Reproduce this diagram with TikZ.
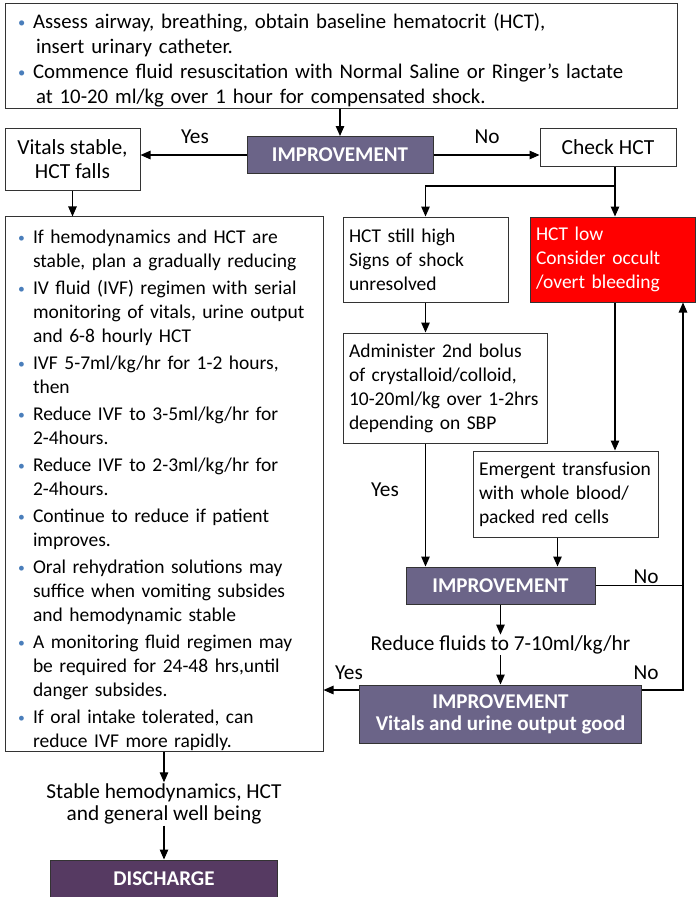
\documentclass[tikz,border=0pt]{standalone}
\usepackage{fontspec}
\setmainfont{Carlito}
\usepackage{xcolor}
\usetikzlibrary{arrows.meta}
\definecolor{impcol}{HTML}{6B6488}
\definecolor{discol}{HTML}{563A62}
\definecolor{bulcol}{HTML}{4A7EBB}
\definecolor{edgecol}{HTML}{333333}
\newcommand{\itm}[1]{\par\hangindent=15pt\hangafter=1\noindent\hbox to 15pt{\textcolor{bulcol}{\raisebox{1.6pt}{\scalebox{0.7}{\textbullet}}}\hfil}#1\par}

\begin{document}
\begin{tikzpicture}[x=1pt, y=-1pt,
  wbox/.style={draw=edgecol, line width=1pt, fill=white, inner sep=0pt, align=center,
               font=\fontsize{19.5}{24}\selectfont},
  lbox/.style={wbox, align=left, inner xsep=6pt},
  pbox/.style={draw=edgecol, line width=1pt, fill=impcol, text=white, inner sep=0pt,
               align=center, font=\fontsize{21}{22}\selectfont\bfseries},
  lbl/.style={inner sep=1pt, align=center, font=\fontsize{21.3}{22.5}\selectfont},
  arr/.style={-{Triangle[length=10pt,width=8.5pt]}, line width=1.2pt},
  ln/.style={line width=1.2pt}]
\useasboundingbox (0,0) rectangle (696,897);
\node[lbox, inner xsep=13pt, text width=646pt, minimum height=105pt,
      font=\fontsize{20.8}{25}\selectfont] (top) at (341,55.5)
  {\itm{Assess airway, breathing, obtain baseline hematocrit (HCT),\newline\hspace*{3pt}insert urinary catheter.}%
   \itm{Commence fluid resuscitation with Normal Saline or Ringer’s lactate\newline\hspace*{3pt}at 10-20 ml/kg over 1 hour for compensated shock.}};
\node[pbox, minimum width=186pt, minimum height=37pt] (imp1) at (340,155) {IMPROVEMENT};
\node[wbox, minimum width=135pt, minimum height=62pt, font=\fontsize{21.5}{24}\selectfont] (vit) at (72.5,159) {Vitals stable,\\ HCT falls};
\node[wbox, minimum width=136pt, minimum height=38pt, font=\fontsize{21.5}{24}\selectfont] (chk) at (608,147) {Check HCT};
\node[lbox, text width=153pt, minimum height=85pt] (high) at (425.5,259.5)
  {HCT still high\\ Signs of shock\\ unresolved};
\node[lbox, fill=red, text=white, text width=153pt, minimum height=85pt] (low) at (612.5,259.5)
  {HCT low\\ Consider occult\\ /overt bleeding};
\node[lbox, text width=192pt, minimum height=110pt] (adm) at (445,388)
  {Administer 2nd bolus\\ of crystalloid/colloid,\\ 10-20ml/kg over 1-2hrs\\ depending on SBP};
\node[lbox, text width=173pt, minimum height=86pt] (emg) at (565.5,494)
  {Emergent transfusion\\ with whole blood/\\ packed red cells};
\node[pbox, minimum width=189pt, minimum height=37pt] (imp2) at (500.5,585.5) {IMPROVEMENT};
\node[lbl] (red) at (500.5,645) {Reduce fluids to 7-10ml/kg/hr};
\node[pbox, minimum width=282pt, minimum height=58pt] (imp3) at (500.5,714)
  {IMPROVEMENT\\ Vitals and urine output good};
\node[lbox, inner xsep=13pt, text width=292pt, minimum height=532pt,
      font=\fontsize{19.5}{24}\selectfont\setlength{\parskip}{3pt}] (plan) at (164,484)
  {\itm{If hemodynamics and HCT are\newline stable, plan a gradually reducing}%
   \itm{IV fluid (IVF) regimen with serial\newline monitoring of vitals, urine output\newline and 6-8 hourly HCT}%
   \itm{IVF 5-7ml/kg/hr for 1-2 hours,\newline then}%
   \itm{Reduce IVF to 3-5ml/kg/hr for\newline 2-4hours.}%
   \itm{Reduce IVF to 2-3ml/kg/hr for\newline 2-4hours.}%
   \itm{Continue to reduce if patient\newline improves.}%
   \itm{Oral rehydration solutions may\newline suffice when vomiting subsides\newline and hemodynamic stable}%
   \itm{A monitoring fluid regimen may\newline be required for 24-48 hrs,until\newline danger subsides.}%
   \itm{If oral intake tolerated, can\newline reduce IVF more rapidly.}};
\node[lbl] (stab) at (164,804) {Stable hemodynamics, HCT\\ and general well being};
\node[pbox, fill=discol, minimum width=227pt, minimum height=37pt] (dis) at (164,878.5) {DISCHARGE};
\coordinate (jn) at (615,186);
\coordinate (rt) at (683,690);
% top part
\draw[arr] (top.south -| imp1.north) -- (imp1.north);
\draw[arr] (imp1.west) -- (imp1.west -| vit.east);
\node[lbl] (yes1) at (195,137) {Yes};
\draw[arr] (imp1.east) -- (imp1.east -| chk.west);
\node[lbl] (no1) at (487,137) {No};
\draw[ln] (chk.south -| jn) -- (jn);
\draw[arr] (jn) -| (high.north);
\draw[arr] (jn) -- (jn |- low.north);
\draw[arr] (vit.south) -- (vit.south |- plan.north);
% right branch
\draw[arr] (high.south) -- (high.south |- adm.north);
\draw[arr] (jn |- low.south) -- (jn |- emg.north);
\draw[arr] (high.south |- adm.south) -- (high.south |- imp2.north);
\node[lbl] (yes2) at (385,490) {Yes};
\draw[arr] ([xshift=-8pt]emg.south) -- ([xshift=-8pt]emg.south |- imp2.north);
\draw[ln] (imp2.east) -- (imp2.east -| rt);
\node[lbl] (no2) at (646,577) {No};
\draw[arr] (imp3.east |- rt) -- (rt) -- (rt |- low.south);
\node[lbl] (no3) at (646,673) {No};
\draw[arr] (imp2.south) -- (red.north);
\draw[arr] (red.south) -- (imp3.north);
\draw[arr] (imp3.west |- rt) -- (plan.east |- rt);
\node[lbl] (yes3) at (349,673) {Yes};
% bottom
\draw[arr] (plan.south) -- (stab.north);
\draw[arr] (stab.south) -- (dis.north);
\end{tikzpicture}
\end{document}
